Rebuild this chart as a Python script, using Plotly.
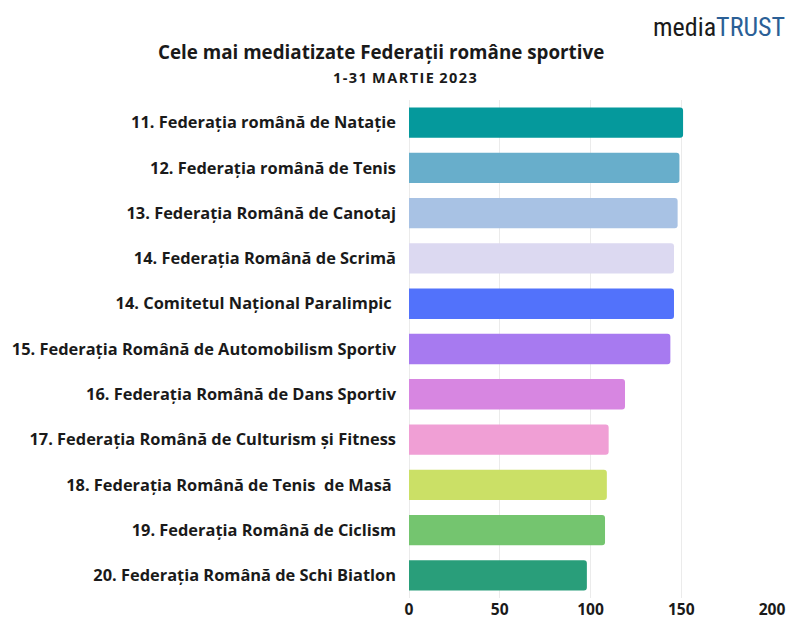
import plotly.graph_objects as go

categories = [
    "11. Federația română de Natație",
    "12. Federația română de Tenis",
    "13. Federația Română de Canotaj",
    "14. Federația Română de Scrimă",
    "14. Comitetul Național Paralimpic ",
    "15. Federația Română de Automobilism Sportiv",
    "16. Federația Română de Dans Sportiv",
    "17. Federația Română de Culturism și Fitness",
    "18. Federația Română de Tenis  de Masă ",
    "19. Federația Română de Ciclism",
    "20. Federația Română de Schi Biatlon",
]
values = [151, 149, 148, 146, 146, 144, 119, 110, 109, 108, 98]
colors = ["#05999c", "#68aecb", "#a8c2e4", "#dcd9f1", "#5272fb", "#a77af0",
          "#d786e1", "#f09fd5", "#cbe066", "#74c56f", "#299e7a"]
tick_vals = [0, 50, 100, 150, 200]

W, H = 800, 620
OFF = 8  # page body margin
L, R, T, B = 409 - OFF, W - (772 - OFF), 100 - OFF, H - (598 - OFF)
PW, PH = W - L - R, H - T - B


def px(x):
    return (x - OFF - L) / PW


def py(y):
    return (H - (y - OFF) - B) / PH


fig = go.Figure(go.Bar(
    x=values, y=categories, orientation="h",
    marker=dict(color=colors, line=dict(width=0), cornerradius=3),
    width=0.67,
))

lab_font = dict(family="Open Sans", size=16.4, color="#1a1a1a", weight="bold")
tick_font = dict(family="Open Sans", size=15.6, color="#1a1a1a", weight="bold")

fig.update_layout(
    width=W, height=H,
    margin=dict(l=L, r=R, t=T, b=B),
    paper_bgcolor="white", plot_bgcolor="white",
    font=dict(family="Open Sans", color="#1a1a1a"),
    showlegend=False,
    xaxis=dict(range=[0, 200], tickvals=tick_vals, showgrid=True, gridcolor="#ebebeb",
               gridwidth=1, zeroline=True, zerolinecolor="#ebebeb", zerolinewidth=1,
               showline=False, ticks="", automargin=False, tickfont=tick_font),
    yaxis=dict(autorange="reversed", showgrid=False, zeroline=False, ticks="",
               automargin=False, ticklabelstandoff=12, tickfont=lab_font),
    annotations=[
        dict(text="<b>Cele mai mediatizate Federații române sportive</b>", x=px(381), y=py(52),
             xref="paper", yref="paper", showarrow=False,
             font=dict(family="Open Sans", size=18.8, color="#1a1a1a"),
             xanchor="center", yanchor="middle"),
        dict(text="<b>1\u200a-\u200a3\u200a1\u200a M\u200aA\u200aR\u200aT\u200aI\u200aE\u200a 2\u200a0\u200a2\u200a3</b>",
             x=px(405), y=py(77),
             xref="paper", yref="paper", showarrow=False,
             font=dict(family="Open Sans", size=14.5, color="#1a1a1a"),
             xanchor="center", yanchor="middle"),
        dict(text="media<span style='color:#2b5f96'>TRUST</span>", x=px(787), y=py(27),
             xref="paper", yref="paper", showarrow=False,
             font=dict(family="Liberation Sans Narrow, Roboto Condensed, DejaVu Sans Condensed", size=26, color="#1a1a1a"),
             xanchor="right", yanchor="middle"),
    ],
)

fig.write_html("out.html")
